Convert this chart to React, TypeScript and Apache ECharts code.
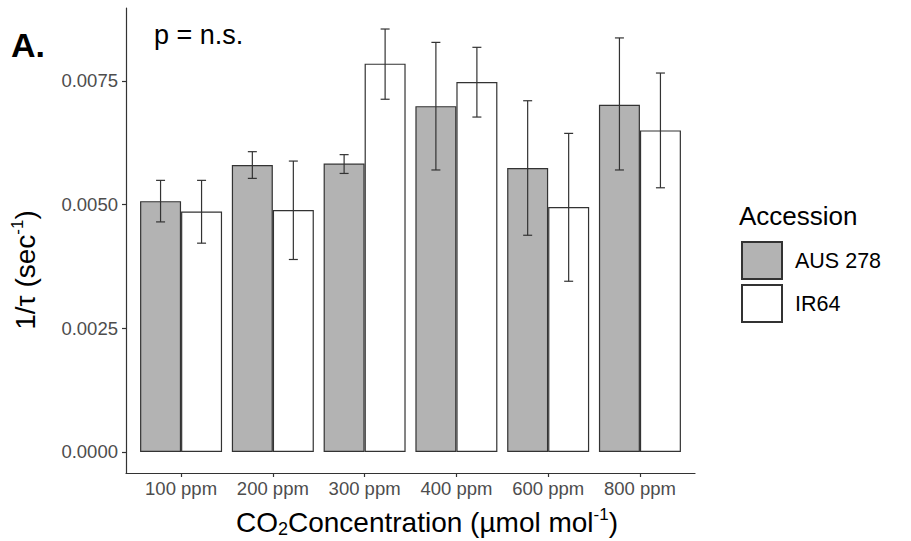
import React, { useEffect, useRef } from "react";
import * as echarts from "echarts";

const categories = ["100 ppm", "200 ppm", "300 ppm", "400 ppm", "600 ppm", "800 ppm"];
const seriesNames = ["AUS 278", "IR64"];
const ausMean = [0.00507, 0.0058, 0.00583, 0.00699, 0.00574, 0.00702];
const ausLow = [0.00465, 0.00553, 0.00563, 0.0057, 0.00438, 0.0057];
const ausHigh = [0.00549, 0.00607, 0.00601, 0.00828, 0.0071, 0.00837];
const irMean = [0.00486, 0.00489, 0.00785, 0.00748, 0.00495, 0.0065];
const irLow = [0.00422, 0.00389, 0.00713, 0.00677, 0.00345, 0.00534];
const irHigh = [0.00549, 0.00588, 0.00855, 0.00818, 0.00644, 0.00766];
const yTicks = [0, 0.0025, 0.005, 0.0075];

const FONT = "'Liberation Sans', Arial, sans-serif";

export default function App() {
  const ref = useRef<HTMLDivElement>(null);
  useEffect(() => {
    if (!ref.current) return;
    const chart = echarts.init(ref.current, null, { renderer: "svg" });
    const positions = categories.map((_, i) => i + 1);
    const barW = 41;
    const errSeries = (name: string, lo: number[], hi: number[], offset: number) => ({
      type: "custom",
      name,
      z: 5,
      silent: true,
      data: lo.map((l, i) => [i + 1, l, hi[i]]),
      encode: { x: 0, y: [1, 2] },
      renderItem: (_p: any, api: any) => {
        const x = api.value(0);
        const pHi = api.coord([x, api.value(2)]);
        const pLo = api.coord([x, api.value(1)]);
        const cx = pHi[0] + offset;
        const cap = 4.5;
        const st = { stroke: "#333", lineWidth: 1.2 };
        return {
          type: "group",
          children: [
            { type: "line", shape: { x1: cx, y1: pHi[1], x2: cx, y2: pLo[1] }, style: st },
            { type: "line", shape: { x1: cx - cap, y1: pHi[1], x2: cx + cap, y2: pHi[1] }, style: st },
            { type: "line", shape: { x1: cx - cap, y1: pLo[1], x2: cx + cap, y2: pLo[1] }, style: st },
          ],
        };
      },
    });
    const option: any = {
      animation: false,
      textStyle: { fontFamily: FONT },
      grid: { left: 126, right: 216, top: 8, bottom: 68, containLabel: false },
      xAxis: {
        type: "value",
        min: 0.4,
        max: 6.6,
        axisLine: { show: true, onZero: false, lineStyle: { color: "#333", width: 1.2 } },
        axisTick: { show: true, customValues: positions, length: 4, lineStyle: { color: "#333", width: 1.2 } },
        axisLabel: {
          customValues: positions,
          formatter: (v: number) => categories[Math.round(v) - 1] ?? "",
          margin: 6,
          fontSize: 18.5,
          color: "#4d4d4d",
          fontFamily: FONT,
        },
        splitLine: { show: false },
      },
      yAxis: {
        type: "value",
        min: -0.000427,
        max: 0.008975,
        axisLine: { show: true, onZero: false, lineStyle: { color: "#333", width: 1.2 } },
        axisTick: { show: true, customValues: yTicks, length: 4, lineStyle: { color: "#333", width: 1.2 } },
        axisLabel: {
          customValues: yTicks,
          formatter: (v: number) => v.toFixed(4),
          margin: 8,
          fontSize: 18.5,
          color: "#4d4d4d",
          fontFamily: FONT,
        },
        splitLine: { show: false },
      },
      legend: {
        data: seriesNames,
        orient: "vertical",
        left: 741,
        top: 241,
        padding: 0,
        itemWidth: 40,
        itemHeight: 37,
        itemGap: 4,
        icon: "rect",
        selectedMode: false,
        itemStyle: { borderColor: "#333", borderWidth: 2 },
        textStyle: { fontSize: 21.5, color: "#000", fontFamily: FONT, padding: [0, 0, 0, 8] },
      },
      series: [
        {
          type: "bar",
          name: seriesNames[0],
          data: ausMean.map((v, i) => [i + 1, v]),
          barWidth: barW,
          barGap: "0%",
          itemStyle: { color: "#b3b3b3", borderColor: "#333", borderWidth: 1.2 },
          emphasis: { disabled: true },
        },
        {
          type: "bar",
          name: seriesNames[1],
          data: irMean.map((v, i) => [i + 1, v]),
          barWidth: barW,
          barGap: "0%",
          itemStyle: { color: "#ffffff", borderColor: "#333", borderWidth: 1.2 },
          emphasis: { disabled: true },
        },
        errSeries("errAUS", ausLow, ausHigh, -barW / 2),
        errSeries("errIR", irLow, irHigh, barW / 2),
      ],
      graphic: [
        {
          type: "text",
          left: 11,
          top: 28,
          style: { text: "A.", fontSize: 34, fontWeight: "bold", fill: "#000", fontFamily: FONT },
        },
        {
          type: "text",
          x: 154,
          y: 35,
          style: { text: "p = n.s.", fontSize: 27, fill: "#000", fontFamily: FONT, align: "left", verticalAlign: "middle" },
        },
        {
          type: "text",
          x: 739,
          y: 216,
          style: { text: "Accession", fontSize: 26, fill: "#000", fontFamily: FONT, align: "left", verticalAlign: "middle" },
        },
        {
          type: "text",
          x: 427,
          y: 522,
          style: {
            text: "{t|CO}{sub|2}{t|Concentration (µmol mol}{sup|-1}{t|)}",
            align: "center",
            verticalAlign: "middle",
            fill: "#000",
            rich: {
              t: { fontSize: 28, lineHeight: 32, fontFamily: FONT, fill: "#000", verticalAlign: "middle" },
              sub: { fontSize: 18, lineHeight: 18, fontFamily: FONT, fill: "#000", verticalAlign: "bottom" },
              sup: { fontSize: 17, lineHeight: 18, fontFamily: FONT, fill: "#000", verticalAlign: "top" },
            },
          },
        },
        {
          type: "text",
          x: 25,
          y: 270,
          rotation: Math.PI / 2,
          style: {
            text: "{t|1/τ (sec}{sup|-1}{t|)}",
            align: "center",
            verticalAlign: "middle",
            fill: "#000",
            rich: {
              t: { fontSize: 28, lineHeight: 32, fontFamily: FONT, fill: "#000", verticalAlign: "middle" },
              sup: { fontSize: 17, lineHeight: 18, fontFamily: FONT, fill: "#000", verticalAlign: "top" },
            },
          },
        },
      ],
    };
    chart.setOption(option);
    return () => chart.dispose();
  }, []);
  return (
    <div
      ref={ref}
      style={{ position: "fixed", left: 0, top: 0, width: 911, height: 541, background: "#fff" }}
    />
  );
}
